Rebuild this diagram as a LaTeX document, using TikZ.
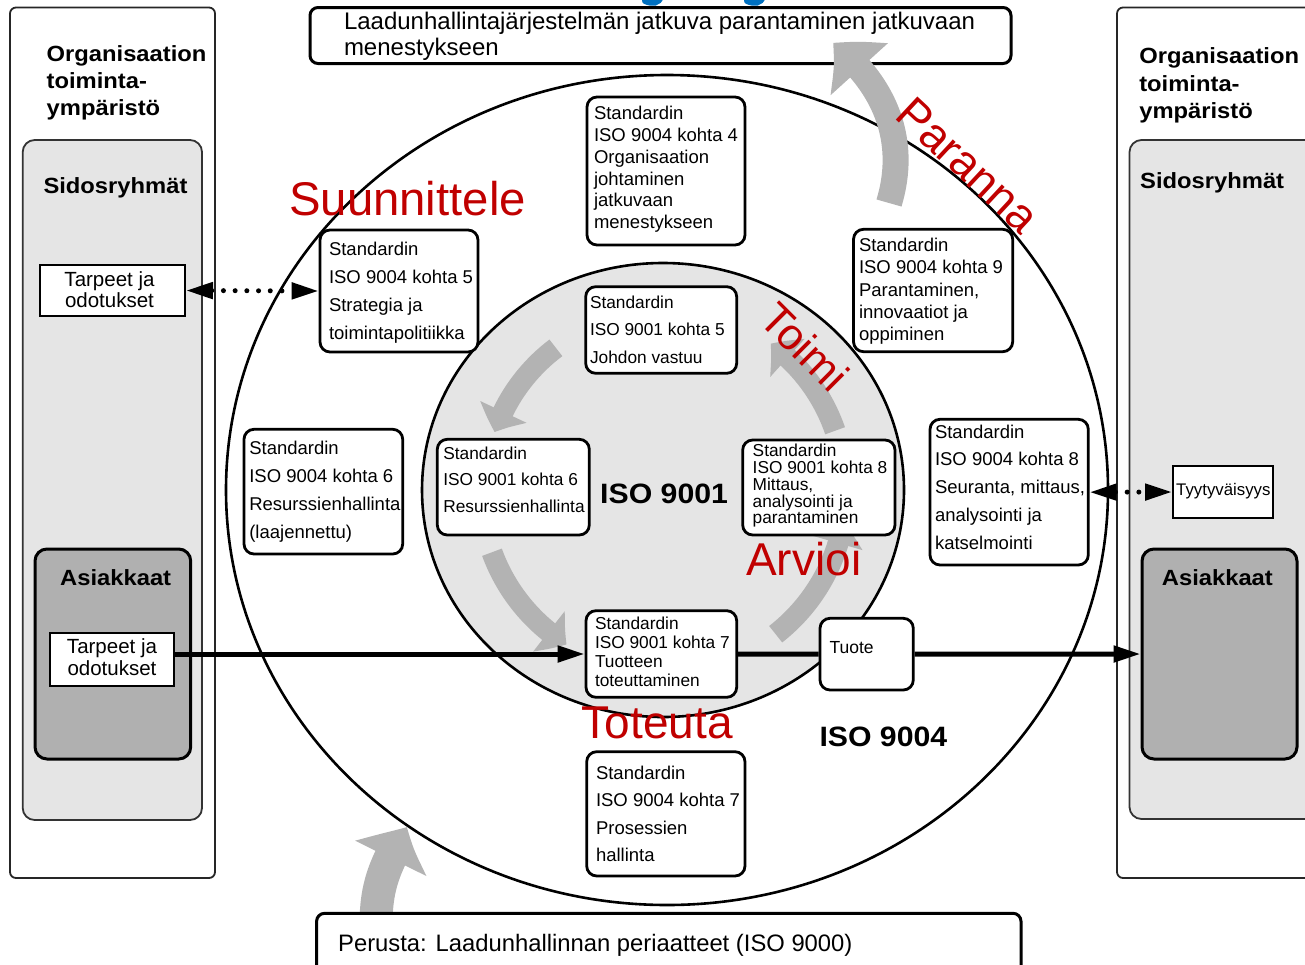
\documentclass[tikz,border=0pt]{standalone}
\usepackage{fontspec}
\setmainfont{Liberation Sans}
\newfontfamily\headfont[FakeStretch=1.08]{Liberation Sans}
\usetikzlibrary{arrows.meta,bending,calc,shapes.geometric}
\definecolor{stakegray}{HTML}{E5E5E5}
\definecolor{custgray}{HTML}{B0B0B0}
\definecolor{arrowgray}{HTML}{B3B3B3}
\definecolor{phasered}{HTML}{C00000}
\definecolor{titleblue}{HTML}{0070C0}
\newcommand{\setfs}[2]{\fontsize{#1pt}{#2pt}\selectfont}
\begin{document}
\begin{tikzpicture}[x=1pt,y=-1pt,
  panel/.style={draw=black!85,line width=1.8,rounded corners=6,inner sep=0},
  stake/.style={draw=black!80,fill=stakegray,line width=1.8,rounded corners=12,inner sep=0},
  cust/.style={draw=black,fill=custgray,line width=3,rounded corners=12,inner sep=0},
  need/.style={draw=black,fill=white,line width=2,inner sep=0},
  stdbox/.style={draw=black,fill=white,line width=2.8,rounded corners=10,inner sep=0},
  topframe/.style={draw=black,line width=3,rounded corners=8,inner sep=0},
  txt/.style={inner sep=0,outer sep=0,anchor=north west,align=left},
  heading/.style={inner sep=0,anchor=base west,font=\headfont\bfseries\setfs{22}{27.3}},
  flowline/.style={line width=5,-{Triangle[length=27pt,width=16pt]}},
  feedback/.style={line width=5,dash pattern=on 0pt off 11.7pt,line cap=round,
    {Triangle[length=27pt,width=16pt]}-{Triangle[length=27pt,width=16pt]}},
  ring/.style={ellipse,draw=black,line width=2.6,inner sep=0},
  loopArrow/.style={draw=arrowgray,line width=21,-{Triangle[length=22pt,width=50pt,bend]}},
  bigarrow/.style={draw=arrowgray,-{Triangle[length=38pt,width=74pt,bend]}},
  phaselabel/.style={inner sep=0,text=phasered,font=\setfs{46}{50}},
]
\useasboundingbox (0,0) rectangle (1305,964);
\clip (0,0) rectangle (1305,964);

% descenders of the heading line above
\draw[titleblue,line width=6,line cap=round] (661,-4) .. controls (659,4) and (652,4) .. (645,1);
\draw[titleblue,line width=6,line cap=round] (763,-4) .. controls (761,4) and (754,4) .. (747,1);

% organisation environment, left
\node[panel,minimum width=205,minimum height=870.5] (envL) at (112.5,442.75) {};
\node[stake,minimum width=179.3,minimum height=680] (stakeL) at (112.35,480) {};
\node[need,minimum width=145,minimum height=51] (needL) at (112.5,290.5) {};
\node[cust,minimum width=155.7,minimum height=210] (custL) at (112.85,654) {};
\node[need,minimum width=124,minimum height=53] (reqL) at (112,659.5) {};

% organisation environment, right
\node[panel,minimum width=220,minimum height=870.5] (envR) at (1227,442.75) {};
\node[stake,minimum width=200,minimum height=679] (stakeR) at (1229.5,479.5) {};
\node[cust,minimum width=155,minimum height=210] (custR) at (1219.5,654) {};
\node[need,minimum width=100,minimum height=52] (satis) at (1223,492) {};

% ISO 9004 and ISO 9001 rings
\node[ring,minimum width=882,minimum height=830] (outer) at (667,490) {};
\node[ring,fill=stakegray,minimum width=482,minimum height=454] (inner) at (663,490) {};

% PDCA arrows inside ISO 9001
\draw[loopArrow] ($(inner.center)+(-127:178)$) arc[start angle=-127,end angle=-161,radius=178];
\draw[loopArrow] ($(inner.center)+(-200:182)$) arc[start angle=-200,end angle=-238,radius=182];
\draw[loopArrow] ($(inner.center)+(52:183)$) arc[start angle=52,end angle=10,radius=183];
\draw[loopArrow] ($(inner.center)+(-19:182)$) arc[start angle=-19,end angle=-54,radius=180];

% clause boxes
\node[stdbox,minimum width=158,minimum height=148] (k4) at (666,171) {};
\node[stdbox,minimum width=158,minimum height=122] (k5a) at (399,291) {};
\node[stdbox,minimum width=159.2,minimum height=122.4] (k9) at (933.1,290.5) {};
\node[stdbox,minimum width=151,minimum height=86.6] (k5b) at (661.2,330) {};
\node[stdbox,minimum width=158.7,minimum height=124.7] (k6a) at (323.35,491.65) {};
\node[stdbox,minimum width=152,minimum height=95.7] (k6b) at (513.3,487.15) {};
\node[stdbox,minimum width=152.3,minimum height=95] (k8b) at (818.85,487.5) {};
\node[stdbox,minimum width=158.3,minimum height=145.7] (k8a) at (1009.15,492.15) {};
\node[stdbox,minimum width=150.7,minimum height=86.6] (k7b) at (661.35,654) {};
\node[stdbox,minimum width=93.3,minimum height=71.7] (tuote) at (866.65,654.15) {};
\node[stdbox,minimum width=158.3,minimum height=124.3] (k7a) at (665.85,813.85) {};

% goal frame
\node[topframe,minimum width=701,minimum height=56] (goal) at (660.5,35.5) {};

% large grey arrows: improvement and foundation
\draw[bigarrow,line width=26] (889,203) .. controls (908,140) and (885,85) .. (833,43);
\draw[bigarrow,line width=33] (376,925) .. controls (376,885) and (385,865) .. (407,827);

% basis frame
\node[topframe,fill=white,minimum width=704.4,minimum height=76.7] (basis) at (668.8,951.65) {};

% connectors
\draw[feedback] (needL.east) -- (k5a.west);
\draw[feedback] (k8a.east) -- (satis.west);
\draw[flowline] (reqL.east |- k7b.west) -- (k7b.west);
\draw[line width=5] (k7b.east) -- (tuote.west);
\draw[flowline] (tuote.east) -- (custR.west);

% texts
\node[txt,font=\setfs{24}{25.5}] at (344,12.5) {Laadunhallintajärjestelmän jatkuva parantaminen jatkuvaan\\menestykseen};
\node[inner sep=0,anchor=base west,font=\setfs{23.8}{25}] at (338,951) {Perusta: Laadunhallinnan periaatteet (ISO 9000)};

\node[txt,font=\headfont\bfseries\setfs{22}{27.3}] at (46.7,45.4) {Organisaation\\toiminta-\\ympäristö};
\node[txt,font=\headfont\bfseries\setfs{22}{27.5}] at (1139.3,48) {Organisaation\\toiminta-\\ympäristö};
\node[heading] at (43.3,193.3) {Sidosryhmät};
\node[heading] at (1140,188.3) {Sidosryhmät};
\node[heading] at (60,585) {Asiakkaat};
\node[heading] at (1161.7,585) {Asiakkaat};
\node[txt,anchor=north,align=center,font=\setfs{20.5}{20.6}] at (109.5,272) {Tarpeet ja\\odotukset};
\node[txt,anchor=north,align=center,font=\setfs{20.5}{21.7}] at (112,638.6) {Tarpeet ja\\odotukset};
\node[inner sep=0,anchor=base west,font=\setfs{16.8}{18}] at (1176,495) {Tyytyväisyys};

\node[txt,font=\setfs{18.5}{21.8}] at (594,106.2) {Standardin\\ISO 9004 kohta 4\\Organisaation\\johtaminen\\jatkuvaan\\menestykseen};
\node[txt,font=\setfs{18.5}{27.7}] at (329,242.5) {Standardin\\ISO 9004 kohta 5\\Strategia ja\\toimintapolitiikka};
\node[txt,font=\setfs{18.5}{22.2}] at (859,238.2) {Standardin\\ISO 9004 kohta 9\\Parantaminen,\\innovaatiot ja\\oppiminen};
\node[txt,font=\setfs{17.3}{27.5}] at (590,295.7) {Standardin\\ISO 9001 kohta 5\\Johdon vastuu};
\node[txt,font=\setfs{18.5}{27.8}] at (249.3,441.5) {Standardin\\ISO 9004 kohta 6\\Resurssienhallinta\\(laajennettu)};
\node[txt,font=\setfs{17.3}{26.7}] at (443.3,446.7) {Standardin\\ISO 9001 kohta 6\\Resurssienhallinta};
\node[txt,font=\setfs{17.3}{16.8}] at (752.7,444.1) {Standardin\\ISO 9001 kohta 8\\Mittaus,\\analysointi ja\\parantaminen};
\node[txt,font=\setfs{18.5}{27.75}] at (935,424.8) {Standardin\\ISO 9004 kohta 8\\Seuranta, mittaus,\\analysointi ja\\katselmointi};
\node[txt,font=\setfs{17.3}{19.1}] at (595,616.7) {Standardin\\ISO 9001 kohta 7\\Tuotteen\\toteuttaminen};
\node[inner sep=0,anchor=base west,font=\setfs{17.5}{19}] at (829.3,653.3) {Tuote};
\node[txt,font=\setfs{18.5}{27.5}] at (596,765.8) {Standardin\\ISO 9004 kohta 7\\Prosessien\\hallinta};

\node[inner sep=0,anchor=base west,font=\headfont\bfseries\setfs{28}{30}] at (600,503.3) {ISO 9001};
\node[inner sep=0,anchor=base west,font=\headfont\bfseries\setfs{28}{30}] at (819.3,746.7) {ISO 9004};

% PDCA phase labels
\node[phaselabel,anchor=base west,font=\setfs{47.3}{50}] at (289,215) {Suunnittele};
\node[phaselabel,anchor=base west] at (746,575) {Arvioi};
\node[phaselabel,anchor=base west] at (581.7,738.3) {Toteuta};
\node[phaselabel,rotate=-43] at (968,165) {Paranna};
\node[phaselabel,rotate=-45,font=\setfs{44}{48}] at (805,347) {Toimi};
\end{tikzpicture}
\end{document}
